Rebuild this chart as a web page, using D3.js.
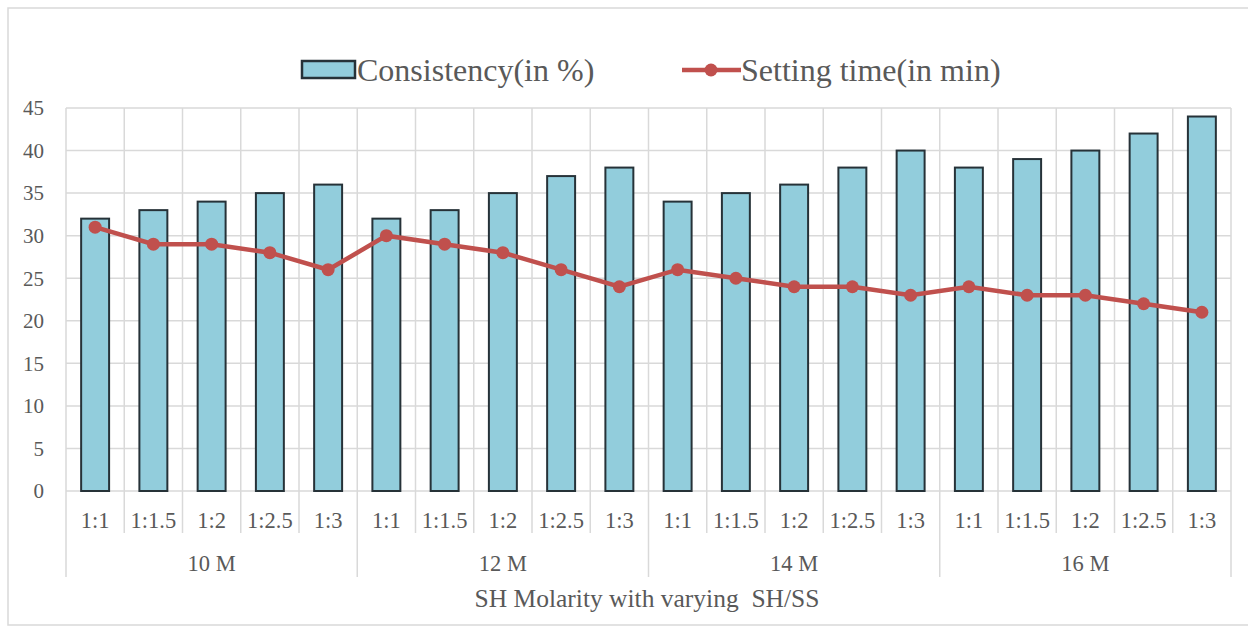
<!DOCTYPE html>
<html><head><meta charset="utf-8">
<script src="https://cdn.jsdelivr.net/npm/d3@7"></script>
</head><body style="margin:0;background:#fff"><svg id="c" width="1248" height="627" style="display:block"></svg>
<script>
const groups = ["10 M","12 M","14 M","16 M"];
const ratios = ["1:1","1:1.5","1:2","1:2.5","1:3"];
const consistency = [32,33,34,35,36, 32,33,35,37,38, 34,35,36,38,40, 38,39,40,42,44];
const settingTime = [31,29,29,28,26, 30,29,28,26,24, 26,25,24,24,23, 24,23,23,22,21];
const yTicks = [0,5,10,15,20,25,30,35,40,45];
const seriesNames = ["Consistency(in %)","Setting time(in min)"];
const FONT = "'Liberation Serif', serif";
const TXT = "#595959";

const cats = [];
groups.forEach(g => ratios.forEach(r => cats.push(g + "|" + r)));

const svg = d3.select("#c");
const L = 66, R = 1231, T = 108, B = 491;
const x = d3.scaleBand().domain(cats).range([L, R]).paddingInner(0).paddingOuter(0);
const y = d3.scaleLinear().domain([0,45]).range([B, T]);
const grid = "#d9d9d9";

function txt(sel){ return sel.style("font-family", FONT).attr("fill", TXT); }

// outer border
svg.append("rect").attr("x",8).attr("y",8).attr("width",1250).attr("height",617)
  .attr("fill","none").attr("stroke","#d9d9d9").attr("stroke-width",1.5);

// horizontal gridlines
svg.append("g").selectAll("line").data(yTicks).join("line")
  .attr("x1",L).attr("x2",R).attr("y1",d=>y(d)).attr("y2",d=>y(d))
  .attr("stroke",grid).attr("stroke-width",1.5);

// vertical gridlines / separators
const bounds = d3.range(cats.length+1);
svg.append("g").selectAll("line").data(bounds).join("line")
  .attr("x1",i=>L + i*x.step()).attr("x2",i=>L + i*x.step())
  .attr("y1",T).attr("y2",i=> (i%5===0) ? 577 : 533)
  .attr("stroke",grid).attr("stroke-width",1.5);

// y axis labels
txt(svg.append("g").selectAll("text").data(yTicks).join("text")
  .attr("x",44).attr("y",d=>y(d)).attr("dy","0.35em").attr("text-anchor","end")
  .attr("font-size",21).text(d=>d));

// bars
const bw = x.bandwidth()*0.48;
svg.append("g").selectAll("rect").data(consistency).join("rect")
  .attr("x",(d,i)=>x(cats[i]) + (x.bandwidth()-bw)/2)
  .attr("y",d=>y(d)).attr("width",bw).attr("height",d=>B-y(d))
  .attr("fill","#92CDDC").attr("stroke","#263238").attr("stroke-width",2);

// line
const cx = i => x(cats[i]) + x.bandwidth()/2;
svg.append("path").datum(settingTime)
  .attr("d", d3.line().x((d,i)=>cx(i)).y(d=>y(d)))
  .attr("fill","none").attr("stroke","#C0504D").attr("stroke-width",4.5);
svg.append("g").selectAll("circle").data(settingTime).join("circle")
  .attr("cx",(d,i)=>cx(i)).attr("cy",d=>y(d)).attr("r",6.5).attr("fill","#C0504D");

// x labels
txt(svg.append("g").selectAll("text").data(cats).join("text")
  .attr("x",(d,i)=>cx(i)).attr("y",520).attr("dy","0.35em").attr("text-anchor","middle")
  .attr("font-size",22.5).text(d=>d.split("|")[1]));
txt(svg.append("g").selectAll("text").data(groups).join("text")
  .attr("x",(d,i)=>L + (i*5+2.5)*x.step()).attr("y",563).attr("dy","0.35em").attr("text-anchor","middle")
  .attr("font-size",22.5).text(d=>d));
txt(svg.append("text").attr("x",647).attr("y",598).attr("dy","0.35em").attr("text-anchor","middle")
  .attr("font-size",25.5).attr("xml:space","preserve").text("SH Molarity with varying  SH/SS"));

// legend
svg.append("rect").attr("x",302).attr("y",61).attr("width",53).attr("height",17)
  .attr("fill","#92CDDC").attr("stroke","#263238").attr("stroke-width",2.5);
txt(svg.append("text").attr("x",357).attr("y",70).attr("dy","0.35em").attr("font-size",32).text(seriesNames[0]));
svg.append("line").attr("x1",682).attr("x2",741).attr("y1",70).attr("y2",70)
  .attr("stroke","#C0504D").attr("stroke-width",4.5);
svg.append("circle").attr("cx",711).attr("cy",70).attr("r",6.5).attr("fill","#C0504D");
txt(svg.append("text").attr("x",741).attr("y",70).attr("dy","0.35em").attr("font-size",32).text(seriesNames[1]));
</script></body></html>
